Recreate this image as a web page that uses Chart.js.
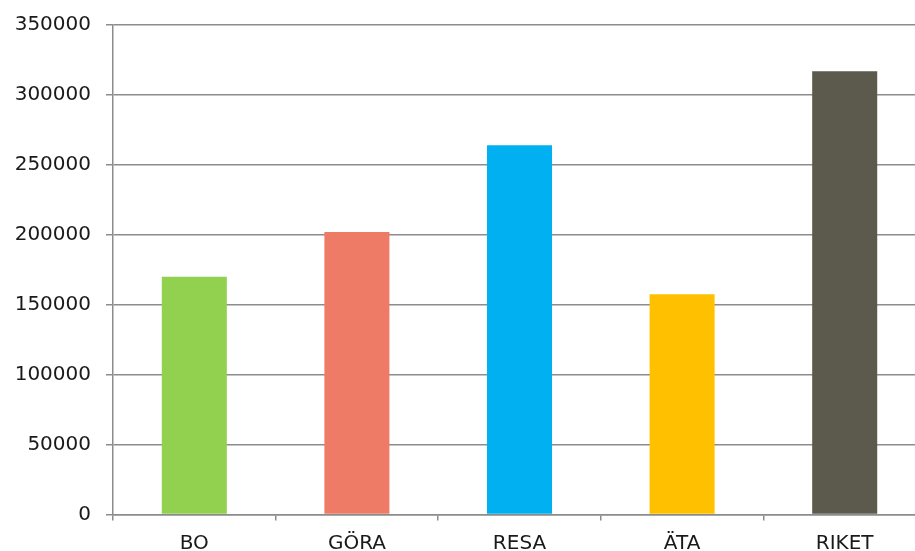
<!DOCTYPE html>
<html>
<head>
<meta charset="utf-8">
<script src="https://cdn.jsdelivr.net/npm/chart.js@4.4.0/dist/chart.umd.min.js"></script>
<style>
  html, body { margin: 0; padding: 0; background: #fff; overflow: hidden; }
  #wrap { position: absolute; left: 0; top: 0; width: 926px; height: 551px; }
</style>
</head>
<body>
<div id="wrap"><canvas id="barChart"></canvas></div>
<script>
const categories = ["BO", "GÖRA", "RESA", "ÄTA", "RIKET"];
const values = [170000, 202000, 264000, 157500, 317000];
const barColors = ["#92D050", "#ED7B65", "#00B0F0", "#FFC000", "#5B5A4D"];
const yMax = 350000;
const yStep = 50000;

let BarChart = function () {
    let _BarChart = function () {
        var barData = {
            labels: categories,
            datasets: [
                {
                    data: values,
                    backgroundColor: barColors,
                    borderWidth: 0,
                    barPercentage: 0.4,
                    categoryPercentage: 1
                }
            ]
        };

        var gridColor = "#8c8c8c";
        var font = { family: "'DejaVu Sans', Verdana, sans-serif", size: 20 };

        var barOptions = {
            responsive: true,
            maintainAspectRatio: false,
            animation: false,
            layout: { padding: { top: 25, left: 0, right: 0, bottom: 0 } },
            plugins: {
                legend: { display: false },
                tooltip: { enabled: false }
            },
            scales: {
                x: {
                    grid: {
                        offset: true,
                        drawOnChartArea: false,
                        drawTicks: true,
                        tickLength: 6,
                        color: gridColor,
                        lineWidth: 1.5
                    },
                    border: { display: true, color: gridColor, width: 1.5 },
                    ticks: { color: "#1a1a1a", font: font, padding: 11, maxRotation: 0 },
                    afterFit: function (scale) { scale.height = 36.5; }
                },
                y: {
                    min: 0,
                    max: yMax,
                    grid: {
                        color: gridColor,
                        lineWidth: 1.5,
                        drawTicks: true,
                        tickLength: 7
                    },
                    border: { display: true, color: gridColor, width: 1.5 },
                    ticks: {
                        stepSize: yStep,
                        color: "#1a1a1a",
                        font: { family: font.family, size: 20, lineHeight: 1 },
                        padding: 15,
                        callback: function (v) { return String(v); }
                    },
                    afterFit: function (scale) { scale.width = 113; }
                }
            }
        };
        var ctx = document.getElementById("barChart").getContext("2d");
        new Chart(ctx, { type: 'bar', data: barData, options: barOptions });
    };
    return {
        init: () => {
            _BarChart();
        }
    }
}();
document.addEventListener('DOMContentLoaded', function () {
    BarChart.init();
})
</script>
</body>
</html>
